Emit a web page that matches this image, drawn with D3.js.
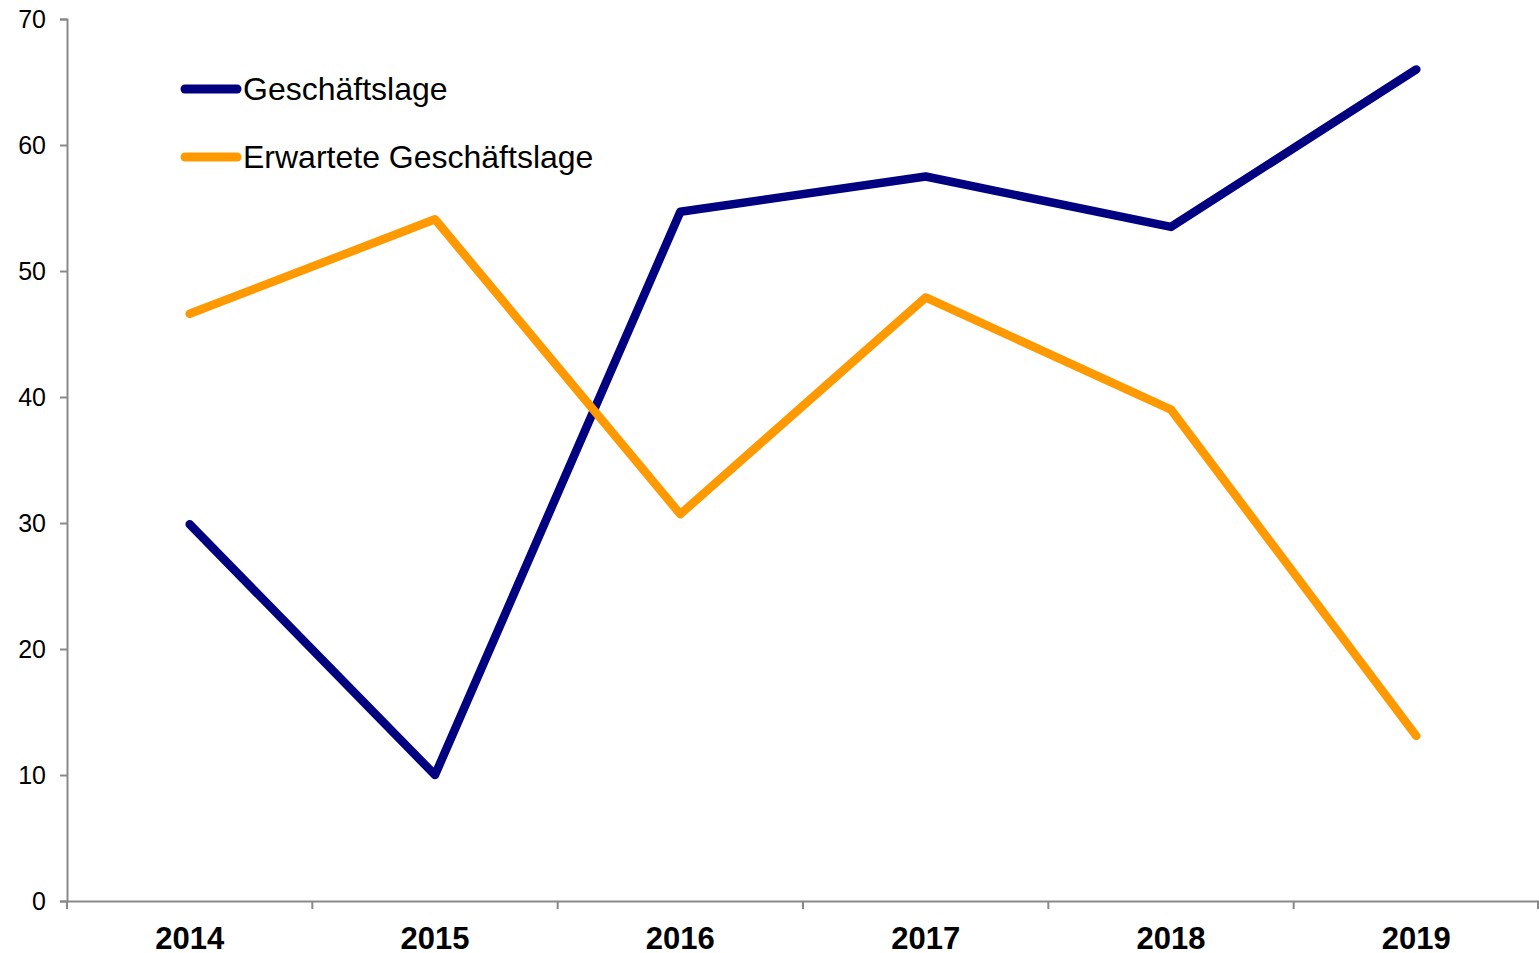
<!DOCTYPE html>
<html>
<head>
<meta charset="utf-8">
<script src="https://cdn.jsdelivr.net/npm/d3@7"></script>
<style>
  body { margin: 0; background: #fff; }
  svg { display: block; font-family: "Liberation Sans", Arial, sans-serif; }
</style>
</head>
<body>
<svg id="chart" width="1539" height="953"></svg>
<script>
var years = ["2014", "2015", "2016", "2017", "2018", "2019"];
var lage = [29.9, 10.0, 54.7, 57.5, 53.5, 66.0];
var erwartet = [46.6, 54.1, 30.7, 47.9, 39.0, 13.1];
var yTicks = [0, 10, 20, 30, 40, 50, 60, 70];

var series = [
  { name: "Geschäftslage", values: lage, color: "#000080" },
  { name: "Erwartete Geschäftslage", values: erwartet, color: "#FF9900" }
];

var svg = d3.select("#chart");
var plotLeft = 67, plotRight = 1539, plotTop = 19, plotBottom = 901;

var x = d3.scaleBand().domain(years).range([plotLeft, plotRight]);
var y = d3.scaleLinear().domain([0, 70]).range([plotBottom, plotTop]);

// y axis
var yAxis = svg.append("g")
  .attr("transform", "translate(" + plotLeft + ",0)")
  .call(d3.axisLeft(y).tickValues(yTicks).tickSize(7).tickPadding(14));
yAxis.selectAll("line, path").attr("stroke", "#898989").attr("stroke-width", 2);
yAxis.selectAll("text").attr("font-size", 25).attr("fill", "#000")
  .attr("font-family", "Liberation Sans, Arial, sans-serif");

// x axis, ticks between categories
var xAxis = svg.append("g")
  .attr("transform", "translate(0," + plotBottom + ")")
  .call(d3.axisBottom(x).tickSize(0).tickPadding(26));
xAxis.select("path").attr("stroke", "#898989").attr("stroke-width", 2);
xAxis.selectAll("text").attr("font-size", 31).attr("font-weight", "bold").attr("fill", "#000")
  .attr("font-family", "Liberation Sans, Arial, sans-serif");
var bounds = years.map(function(d) { return x(d); }).concat([plotRight - 1]);
xAxis.selectAll(".sep").data(bounds).enter().append("line")
  .attr("x1", function(d) { return d; }).attr("x2", function(d) { return d; })
  .attr("y1", 0).attr("y2", 8)
  .attr("stroke", "#898989").attr("stroke-width", 2);

var line = d3.line()
  .x(function(d, i) { return x(years[i]) + x.bandwidth() / 2; })
  .y(function(d) { return y(d); });

series.forEach(function(s) {
  svg.append("path")
    .datum(s.values)
    .attr("d", line)
    .attr("fill", "none")
    .attr("stroke", s.color)
    .attr("stroke-width", 8.5)
    .attr("stroke-linecap", "round")
    .attr("stroke-linejoin", "round");
});

// legend
var legend = svg.append("g");
series.forEach(function(s, i) {
  var ly = 89 + i * 68;
  legend.append("line")
    .attr("x1", 185).attr("x2", 237).attr("y1", ly).attr("y2", ly)
    .attr("stroke", s.color).attr("stroke-width", 9).attr("stroke-linecap", "round");
  legend.append("text")
    .attr("x", 243).attr("y", ly + 11)
    .attr("font-size", 32).attr("fill", "#000")
    .text(s.name);
});
</script>
</body>
</html>
